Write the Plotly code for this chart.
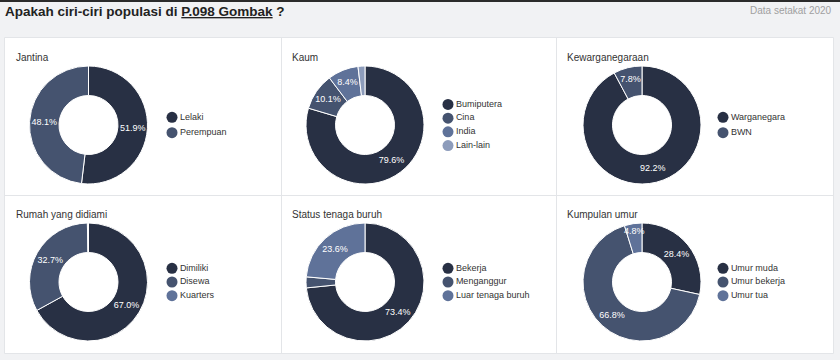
import plotly.graph_objects as go

# ---------------- data ----------------
titles = ["Jantina", "Kaum", "Kewarganegaraan",
          "Rumah yang didiami", "Status tenaga buruh", "Kumpulan umur"]

jantina_labels = ["Lelaki", "Perempuan"]
jantina_values = [51.9, 48.1]

kaum_labels = ["Bumiputera", "Cina", "India", "Lain-lain"]
kaum_values = [79.6, 10.1, 8.4, 1.9]

warga_labels = ["Warganegara", "BWN"]
warga_values = [92.2, 7.8]

rumah_labels = ["Dimiliki", "Disewa", "Kuarters"]
rumah_values = [67.0, 32.7, 0.3]

buruh_labels = ["Bekerja", "Menganggur", "Luar tenaga buruh"]
buruh_values = [73.4, 3.0, 23.6]

umur_labels = ["Umur muda", "Umur bekerja", "Umur tua"]
umur_values = [28.4, 66.8, 4.8]

main_title = "Apakah ciri-ciri populasi di <u>P.098 Gombak</u> ?"
note = "Data setakat 2020"

# ---------------- style ----------------
W, H = 840, 360
palette = ["#283044", "#45536f", "#5f7299", "#8d9cbb"]
SANS = "Liberation Sans, Arial, sans-serif"

def fx(p):
    return p / W

def fy(p):
    return 1 - p / H

panels = [
    (jantina_labels, jantina_values),
    (kaum_labels, kaum_values),
    (warga_labels, warga_values),
    (rumah_labels, rumah_values),
    (buruh_labels, buruh_values),
    (umur_labels, umur_values),
]

cell_left = [5, 281, 556]
cell_top = [38, 195]
donut_cx = [88.5, 365, 642]
donut_cy = [125, 282]
R = 59
legend_dx = 167  # circle centre offset from cell left

fig = go.Figure()
annotations = []
shapes = []

# page decoration
shapes.append(dict(type="rect", xref="paper", yref="paper", x0=0, x1=1, y0=fy(2), y1=1,
                   fillcolor="#2b2b2b", line=dict(width=0), layer="below"))
shapes.append(dict(type="rect", xref="paper", yref="paper",
                   x0=fx(4.5), x1=fx(833.5), y0=fy(353.5), y1=fy(37.5),
                   fillcolor="white", line=dict(color="#e3e5e8", width=1), layer="below"))
shapes.append(dict(type="line", xref="paper", yref="paper",
                   x0=fx(4.5), x1=fx(833.5), y0=fy(195.5), y1=fy(195.5),
                   line=dict(color="#e3e5e8", width=1), layer="below"))
for xv in [281.5, 556.5]:
    shapes.append(dict(type="line", xref="paper", yref="paper",
                       x0=fx(xv), x1=fx(xv), y0=fy(353.5), y1=fy(37.5),
                       line=dict(color="#e3e5e8", width=1), layer="below"))

annotations.append(dict(text="<b>" + main_title + "</b>", x=fx(3), y=fy(11), xref="paper", yref="paper",
                        xanchor="left", yanchor="middle", showarrow=False,
                        font=dict(family=SANS, size=13.5, color="#222222")))
annotations.append(dict(text=note, x=fx(834), y=fy(10), xref="paper", yref="paper",
                        xanchor="right", yanchor="middle", showarrow=False,
                        font=dict(family=SANS, size=10, color="#a0a0a0")))

layout_axes = {}
for i, (labels, values) in enumerate(panels):
    r, c = divmod(i, 3)
    cx, cy = donut_cx[c], donut_cy[r]
    n = len(labels)
    cols = palette[:n]
    texts = [f"{v:.1f}%" if v >= 4 else "" for v in values]
    fig.add_trace(go.Pie(
        labels=labels, values=values, hole=0.5, sort=False, direction="clockwise", rotation=0,
        marker=dict(colors=cols, line=dict(color="white", width=1)),
        text=texts, textinfo="text", textposition="inside", insidetextorientation="horizontal",
        textfont=dict(family=SANS, size=9, color="white"),
        domain=dict(x=[fx(cx - R), fx(cx + R)], y=[fy(cy + R), fy(cy - R)]),
        showlegend=False, hoverinfo="label+percent", name=titles[i],
    ))
    # panel title
    annotations.append(dict(text=titles[i], x=fx(cell_left[c] + 9), y=fy(cell_top[r] + 19),
                            xref="paper", yref="paper", xanchor="left", yanchor="middle",
                            showarrow=False, font=dict(family=SANS, size=10, color="#333333")))
    # legend built as a scatter on its own hidden axes
    k = i + 1
    xa = f"x{k}" if k > 1 else "x"
    ya = f"y{k}" if k > 1 else "y"
    spacing = 15.3 if n == 2 else 13.7
    half = 50
    lx = cell_left[c] + legend_dx
    fig.add_trace(go.Scatter(
        x=[0] * n, y=list(range(n)), mode="markers+text",
        marker=dict(color=cols, size=11, symbol="circle"),
        text=labels, textposition="middle right",
        textfont=dict(family=SANS, size=9, color="#333333"),
        xaxis=xa, yaxis=ya, showlegend=False, hoverinfo="skip", cliponaxis=False,
    ))
    mid = (n - 1) / 2
    axname_x = "xaxis" if k == 1 else f"xaxis{k}"
    axname_y = "yaxis" if k == 1 else f"yaxis{k}"
    layout_axes[axname_x] = dict(domain=[fx(lx - 10), fx(lx + 90)], range=[-10, 90],
                                 visible=False, fixedrange=True, anchor=ya)
    layout_axes[axname_y] = dict(domain=[fy(cy + half), fy(cy - half)],
                                 range=[mid + half / spacing, mid - half / spacing],
                                 visible=False, fixedrange=True, anchor=xa)

fig.update_layout(
    width=W, height=H, margin=dict(l=0, r=0, t=0, b=0),
    paper_bgcolor="#f1f2f4", plot_bgcolor="rgba(0,0,0,0)",
    shapes=shapes, annotations=annotations,
    uniformtext=dict(minsize=9, mode="show"),
    **layout_axes,
)

fig.write_html("out.html", config={"displayModeBar": False},
               post_script="document.body.style.margin='0';document.body.style.padding='0';")
